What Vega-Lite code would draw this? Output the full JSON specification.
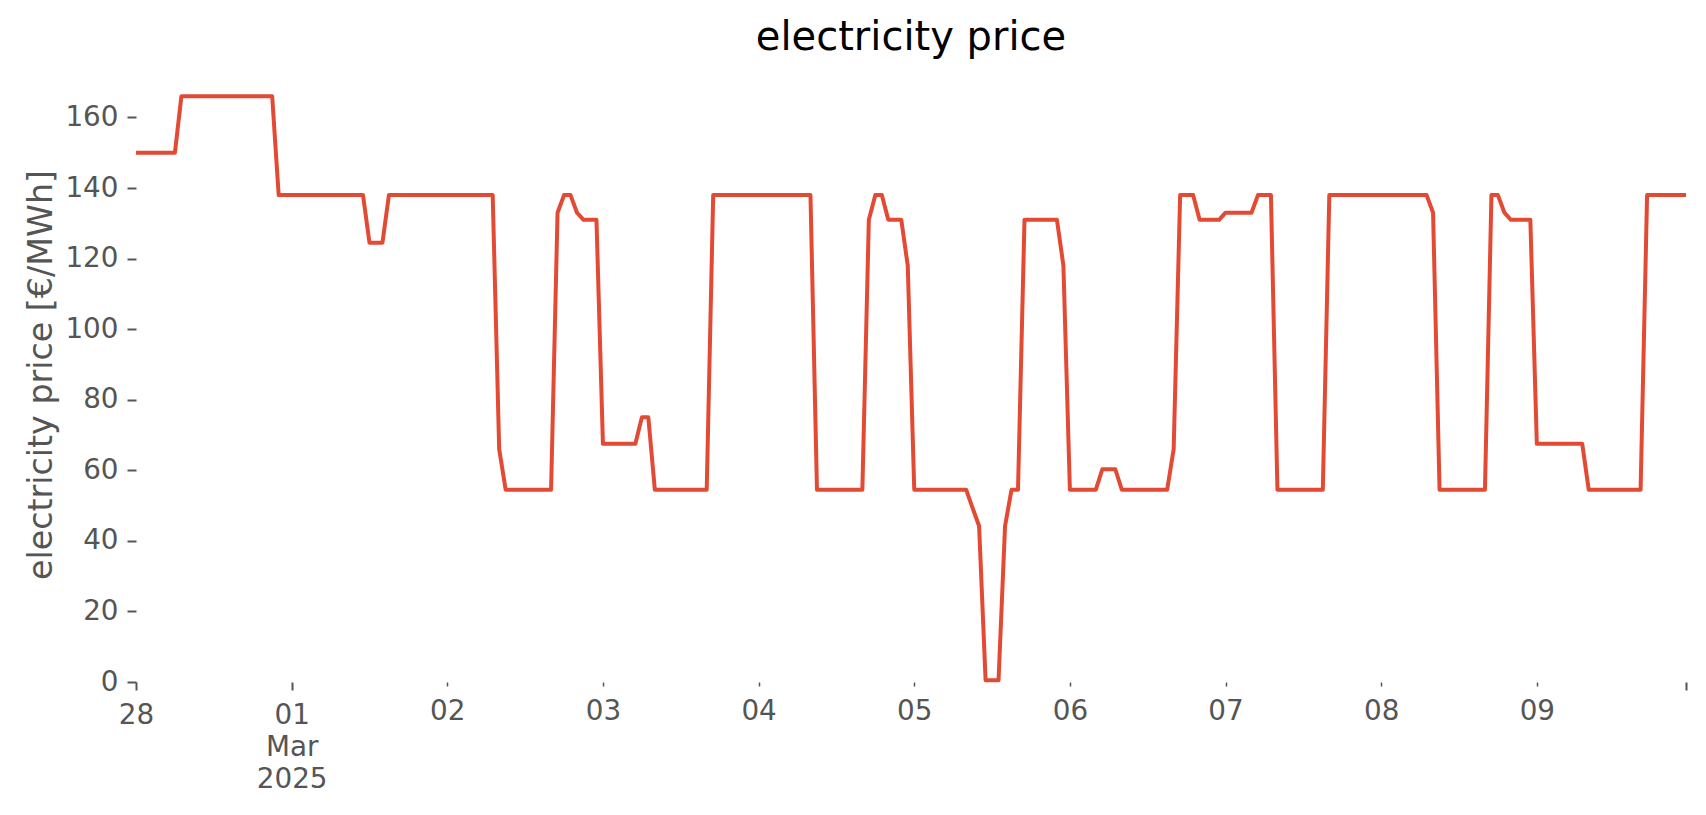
{
  "$schema": "https://vega.github.io/schema/vega-lite/v6.json",
  "width": 1550,
  "height": 615,
  "autosize": {"type": "none"},
  "padding": {"left": 136, "top": 67, "right": 20, "bottom": 133},
  "background": "white",
  "config": {"view": {"stroke": null}, "font": "DejaVu Sans"},
  "title": {
    "text": "electricity price",
    "fontSize": 40,
    "fontWeight": "normal",
    "color": "#000000",
    "font": "DejaVu Sans",
    "baseline": "alphabetic",
    "offset": 19,
    "dy": 42
  },
  "data": {
    "values": [
      {"time": "2025-02-28 00:00", "price": 150}, {"time": "2025-02-28 01:00", "price": 150}, {"time": "2025-02-28 02:00", "price": 150}, {"time": "2025-02-28 03:00", "price": 150},
      {"time": "2025-02-28 04:00", "price": 150}, {"time": "2025-02-28 05:00", "price": 150}, {"time": "2025-02-28 06:00", "price": 150}, {"time": "2025-02-28 07:00", "price": 166},
      {"time": "2025-02-28 08:00", "price": 166}, {"time": "2025-02-28 09:00", "price": 166}, {"time": "2025-02-28 10:00", "price": 166}, {"time": "2025-02-28 11:00", "price": 166},
      {"time": "2025-02-28 12:00", "price": 166}, {"time": "2025-02-28 13:00", "price": 166}, {"time": "2025-02-28 14:00", "price": 166}, {"time": "2025-02-28 15:00", "price": 166},
      {"time": "2025-02-28 16:00", "price": 166}, {"time": "2025-02-28 17:00", "price": 166}, {"time": "2025-02-28 18:00", "price": 166}, {"time": "2025-02-28 19:00", "price": 166},
      {"time": "2025-02-28 20:00", "price": 166}, {"time": "2025-02-28 21:00", "price": 166}, {"time": "2025-02-28 22:00", "price": 138}, {"time": "2025-02-28 23:00", "price": 138},

      {"time": "2025-03-01 00:00", "price": 138}, {"time": "2025-03-01 01:00", "price": 138}, {"time": "2025-03-01 02:00", "price": 138}, {"time": "2025-03-01 03:00", "price": 138},
      {"time": "2025-03-01 04:00", "price": 138}, {"time": "2025-03-01 05:00", "price": 138}, {"time": "2025-03-01 06:00", "price": 138}, {"time": "2025-03-01 07:00", "price": 138},
      {"time": "2025-03-01 08:00", "price": 138}, {"time": "2025-03-01 09:00", "price": 138}, {"time": "2025-03-01 10:00", "price": 138}, {"time": "2025-03-01 11:00", "price": 138},
      {"time": "2025-03-01 12:00", "price": 124.5}, {"time": "2025-03-01 13:00", "price": 124.5}, {"time": "2025-03-01 14:00", "price": 124.5}, {"time": "2025-03-01 15:00", "price": 138},
      {"time": "2025-03-01 16:00", "price": 138}, {"time": "2025-03-01 17:00", "price": 138}, {"time": "2025-03-01 18:00", "price": 138}, {"time": "2025-03-01 19:00", "price": 138},
      {"time": "2025-03-01 20:00", "price": 138}, {"time": "2025-03-01 21:00", "price": 138}, {"time": "2025-03-01 22:00", "price": 138}, {"time": "2025-03-01 23:00", "price": 138},

      {"time": "2025-03-02 00:00", "price": 138}, {"time": "2025-03-02 01:00", "price": 138}, {"time": "2025-03-02 02:00", "price": 138}, {"time": "2025-03-02 03:00", "price": 138},
      {"time": "2025-03-02 04:00", "price": 138}, {"time": "2025-03-02 05:00", "price": 138}, {"time": "2025-03-02 06:00", "price": 138}, {"time": "2025-03-02 07:00", "price": 138},
      {"time": "2025-03-02 08:00", "price": 66}, {"time": "2025-03-02 09:00", "price": 54.5}, {"time": "2025-03-02 10:00", "price": 54.5}, {"time": "2025-03-02 11:00", "price": 54.5},
      {"time": "2025-03-02 12:00", "price": 54.5}, {"time": "2025-03-02 13:00", "price": 54.5}, {"time": "2025-03-02 14:00", "price": 54.5}, {"time": "2025-03-02 15:00", "price": 54.5},
      {"time": "2025-03-02 16:00", "price": 54.5}, {"time": "2025-03-02 17:00", "price": 133}, {"time": "2025-03-02 18:00", "price": 138}, {"time": "2025-03-02 19:00", "price": 138},
      {"time": "2025-03-02 20:00", "price": 133}, {"time": "2025-03-02 21:00", "price": 131}, {"time": "2025-03-02 22:00", "price": 131}, {"time": "2025-03-02 23:00", "price": 131},

      {"time": "2025-03-03 00:00", "price": 67.5}, {"time": "2025-03-03 01:00", "price": 67.5}, {"time": "2025-03-03 02:00", "price": 67.5}, {"time": "2025-03-03 03:00", "price": 67.5},
      {"time": "2025-03-03 04:00", "price": 67.5}, {"time": "2025-03-03 05:00", "price": 67.5}, {"time": "2025-03-03 06:00", "price": 75}, {"time": "2025-03-03 07:00", "price": 75},
      {"time": "2025-03-03 08:00", "price": 54.5}, {"time": "2025-03-03 09:00", "price": 54.5}, {"time": "2025-03-03 10:00", "price": 54.5}, {"time": "2025-03-03 11:00", "price": 54.5},
      {"time": "2025-03-03 12:00", "price": 54.5}, {"time": "2025-03-03 13:00", "price": 54.5}, {"time": "2025-03-03 14:00", "price": 54.5}, {"time": "2025-03-03 15:00", "price": 54.5},
      {"time": "2025-03-03 16:00", "price": 54.5}, {"time": "2025-03-03 17:00", "price": 138}, {"time": "2025-03-03 18:00", "price": 138}, {"time": "2025-03-03 19:00", "price": 138},
      {"time": "2025-03-03 20:00", "price": 138}, {"time": "2025-03-03 21:00", "price": 138}, {"time": "2025-03-03 22:00", "price": 138}, {"time": "2025-03-03 23:00", "price": 138},

      {"time": "2025-03-04 00:00", "price": 138}, {"time": "2025-03-04 01:00", "price": 138}, {"time": "2025-03-04 02:00", "price": 138}, {"time": "2025-03-04 03:00", "price": 138},
      {"time": "2025-03-04 04:00", "price": 138}, {"time": "2025-03-04 05:00", "price": 138}, {"time": "2025-03-04 06:00", "price": 138}, {"time": "2025-03-04 07:00", "price": 138},
      {"time": "2025-03-04 08:00", "price": 138}, {"time": "2025-03-04 09:00", "price": 54.5}, {"time": "2025-03-04 10:00", "price": 54.5}, {"time": "2025-03-04 11:00", "price": 54.5},
      {"time": "2025-03-04 12:00", "price": 54.5}, {"time": "2025-03-04 13:00", "price": 54.5}, {"time": "2025-03-04 14:00", "price": 54.5}, {"time": "2025-03-04 15:00", "price": 54.5},
      {"time": "2025-03-04 16:00", "price": 54.5}, {"time": "2025-03-04 17:00", "price": 131}, {"time": "2025-03-04 18:00", "price": 138}, {"time": "2025-03-04 19:00", "price": 138},
      {"time": "2025-03-04 20:00", "price": 131}, {"time": "2025-03-04 21:00", "price": 131}, {"time": "2025-03-04 22:00", "price": 131}, {"time": "2025-03-04 23:00", "price": 118},

      {"time": "2025-03-05 00:00", "price": 54.5}, {"time": "2025-03-05 01:00", "price": 54.5}, {"time": "2025-03-05 02:00", "price": 54.5}, {"time": "2025-03-05 03:00", "price": 54.5},
      {"time": "2025-03-05 04:00", "price": 54.5}, {"time": "2025-03-05 05:00", "price": 54.5}, {"time": "2025-03-05 06:00", "price": 54.5}, {"time": "2025-03-05 07:00", "price": 54.5},
      {"time": "2025-03-05 08:00", "price": 54.5}, {"time": "2025-03-05 09:00", "price": 49.3}, {"time": "2025-03-05 10:00", "price": 44.2}, {"time": "2025-03-05 11:00", "price": 0.5},
      {"time": "2025-03-05 12:00", "price": 0.5}, {"time": "2025-03-05 13:00", "price": 0.5}, {"time": "2025-03-05 14:00", "price": 44.2}, {"time": "2025-03-05 15:00", "price": 54.5},
      {"time": "2025-03-05 16:00", "price": 54.5}, {"time": "2025-03-05 17:00", "price": 131}, {"time": "2025-03-05 18:00", "price": 131}, {"time": "2025-03-05 19:00", "price": 131},
      {"time": "2025-03-05 20:00", "price": 131}, {"time": "2025-03-05 21:00", "price": 131}, {"time": "2025-03-05 22:00", "price": 131}, {"time": "2025-03-05 23:00", "price": 118},

      {"time": "2025-03-06 00:00", "price": 54.5}, {"time": "2025-03-06 01:00", "price": 54.5}, {"time": "2025-03-06 02:00", "price": 54.5}, {"time": "2025-03-06 03:00", "price": 54.5},
      {"time": "2025-03-06 04:00", "price": 54.5}, {"time": "2025-03-06 05:00", "price": 60.3}, {"time": "2025-03-06 06:00", "price": 60.3}, {"time": "2025-03-06 07:00", "price": 60.3},
      {"time": "2025-03-06 08:00", "price": 54.5}, {"time": "2025-03-06 09:00", "price": 54.5}, {"time": "2025-03-06 10:00", "price": 54.5}, {"time": "2025-03-06 11:00", "price": 54.5},
      {"time": "2025-03-06 12:00", "price": 54.5}, {"time": "2025-03-06 13:00", "price": 54.5}, {"time": "2025-03-06 14:00", "price": 54.5}, {"time": "2025-03-06 15:00", "price": 54.5},
      {"time": "2025-03-06 16:00", "price": 66}, {"time": "2025-03-06 17:00", "price": 138}, {"time": "2025-03-06 18:00", "price": 138}, {"time": "2025-03-06 19:00", "price": 138},
      {"time": "2025-03-06 20:00", "price": 131}, {"time": "2025-03-06 21:00", "price": 131}, {"time": "2025-03-06 22:00", "price": 131}, {"time": "2025-03-06 23:00", "price": 131},

      {"time": "2025-03-07 00:00", "price": 133}, {"time": "2025-03-07 01:00", "price": 133}, {"time": "2025-03-07 02:00", "price": 133}, {"time": "2025-03-07 03:00", "price": 133},
      {"time": "2025-03-07 04:00", "price": 133}, {"time": "2025-03-07 05:00", "price": 138}, {"time": "2025-03-07 06:00", "price": 138}, {"time": "2025-03-07 07:00", "price": 138},
      {"time": "2025-03-07 08:00", "price": 54.5}, {"time": "2025-03-07 09:00", "price": 54.5}, {"time": "2025-03-07 10:00", "price": 54.5}, {"time": "2025-03-07 11:00", "price": 54.5},
      {"time": "2025-03-07 12:00", "price": 54.5}, {"time": "2025-03-07 13:00", "price": 54.5}, {"time": "2025-03-07 14:00", "price": 54.5}, {"time": "2025-03-07 15:00", "price": 54.5},
      {"time": "2025-03-07 16:00", "price": 138}, {"time": "2025-03-07 17:00", "price": 138}, {"time": "2025-03-07 18:00", "price": 138}, {"time": "2025-03-07 19:00", "price": 138},
      {"time": "2025-03-07 20:00", "price": 138}, {"time": "2025-03-07 21:00", "price": 138}, {"time": "2025-03-07 22:00", "price": 138}, {"time": "2025-03-07 23:00", "price": 138},

      {"time": "2025-03-08 00:00", "price": 138}, {"time": "2025-03-08 01:00", "price": 138}, {"time": "2025-03-08 02:00", "price": 138}, {"time": "2025-03-08 03:00", "price": 138},
      {"time": "2025-03-08 04:00", "price": 138}, {"time": "2025-03-08 05:00", "price": 138}, {"time": "2025-03-08 06:00", "price": 138}, {"time": "2025-03-08 07:00", "price": 138},
      {"time": "2025-03-08 08:00", "price": 133}, {"time": "2025-03-08 09:00", "price": 54.5}, {"time": "2025-03-08 10:00", "price": 54.5}, {"time": "2025-03-08 11:00", "price": 54.5},
      {"time": "2025-03-08 12:00", "price": 54.5}, {"time": "2025-03-08 13:00", "price": 54.5}, {"time": "2025-03-08 14:00", "price": 54.5}, {"time": "2025-03-08 15:00", "price": 54.5},
      {"time": "2025-03-08 16:00", "price": 54.5}, {"time": "2025-03-08 17:00", "price": 138}, {"time": "2025-03-08 18:00", "price": 138}, {"time": "2025-03-08 19:00", "price": 133},
      {"time": "2025-03-08 20:00", "price": 131}, {"time": "2025-03-08 21:00", "price": 131}, {"time": "2025-03-08 22:00", "price": 131}, {"time": "2025-03-08 23:00", "price": 131},

      {"time": "2025-03-09 00:00", "price": 67.5}, {"time": "2025-03-09 01:00", "price": 67.5}, {"time": "2025-03-09 02:00", "price": 67.5}, {"time": "2025-03-09 03:00", "price": 67.5},
      {"time": "2025-03-09 04:00", "price": 67.5}, {"time": "2025-03-09 05:00", "price": 67.5}, {"time": "2025-03-09 06:00", "price": 67.5}, {"time": "2025-03-09 07:00", "price": 67.5},
      {"time": "2025-03-09 08:00", "price": 54.5}, {"time": "2025-03-09 09:00", "price": 54.5}, {"time": "2025-03-09 10:00", "price": 54.5}, {"time": "2025-03-09 11:00", "price": 54.5},
      {"time": "2025-03-09 12:00", "price": 54.5}, {"time": "2025-03-09 13:00", "price": 54.5}, {"time": "2025-03-09 14:00", "price": 54.5}, {"time": "2025-03-09 15:00", "price": 54.5},
      {"time": "2025-03-09 16:00", "price": 54.5}, {"time": "2025-03-09 17:00", "price": 138}, {"time": "2025-03-09 18:00", "price": 138}, {"time": "2025-03-09 19:00", "price": 138},
      {"time": "2025-03-09 20:00", "price": 138}, {"time": "2025-03-09 21:00", "price": 138}, {"time": "2025-03-09 22:00", "price": 138}, {"time": "2025-03-09 23:00", "price": 138}
    ],
    "format": {"parse": {"time": "utc:'%Y-%m-%d %H:%M'"}}
  },
  "mark": {"type": "line", "color": "#E24A33", "strokeWidth": 4, "strokeJoin": "round", "strokeCap": "butt", "clip": false},
  "encoding": {
    "x": {
      "field": "time",
      "type": "temporal",
      "scale": {
        "type": "utc",
        "domain": [
          {"year": 2025, "month": 2, "date": 28, "hours": 0, "utc": true},
          {"year": 2025, "month": 3, "date": 9, "hours": 23, "utc": true}
        ],
        "nice": false
      },
      "axis": {
        "title": null,
        "values": [1740700800000, 1740787200000, 1740873600000, 1740960000000, 1741046400000, 1741132800000, 1741219200000, 1741305600000, 1741392000000, 1741478400000, 1741561200000],
        "labelExpr": "time(datum.value) == 1740787200000 ? ['01', 'Mar', '2025'] : (time(datum.value) == 1741561200000 ? '' : utcFormat(datum.value, '%d'))",
        "domain": false,
        "grid": false,
        "tickSize": {"condition": {"test": "time(datum.value) == 1740700800000 || time(datum.value) == 1740787200000 || time(datum.value) == 1741561200000", "value": 8}, "value": 4},
        "tickWidth": {"condition": {"test": "time(datum.value) == 1740700800000 || time(datum.value) == 1740787200000 || time(datum.value) == 1741561200000", "value": 2}, "value": 1.5},
        "tickColor": "#555555",
        "labelColor": "#555555",
        "labelFont": "DejaVu Sans",
        "labelFontSize": 27.8,
        "labelPadding": 11,
        "labelLineHeight": 32,
        "labelFlush": false,
        "labelOverlap": false,
        "labelBound": false
      }
    },
    "y": {
      "field": "price",
      "type": "quantitative",
      "scale": {"domain": [0, 174.3], "nice": false, "zero": true},
      "axis": {
        "title": "electricity price [€/MWh]",
        "values": [0, 20, 40, 60, 80, 100, 120, 140, 160],
        "domain": false,
        "grid": false,
        "tickSize": 9,
        "tickWidth": 2,
        "tickColor": "#555555",
        "labelColor": "#555555",
        "labelFont": "DejaVu Sans",
        "labelFontSize": 27.8,
        "labelPadding": 9,
        "titleFont": "DejaVu Sans",
        "titleFontSize": 33.3,
        "titleFontWeight": "normal",
        "titleColor": "#555555",
        "titlePadding": 6
      }
    }
  }
}
